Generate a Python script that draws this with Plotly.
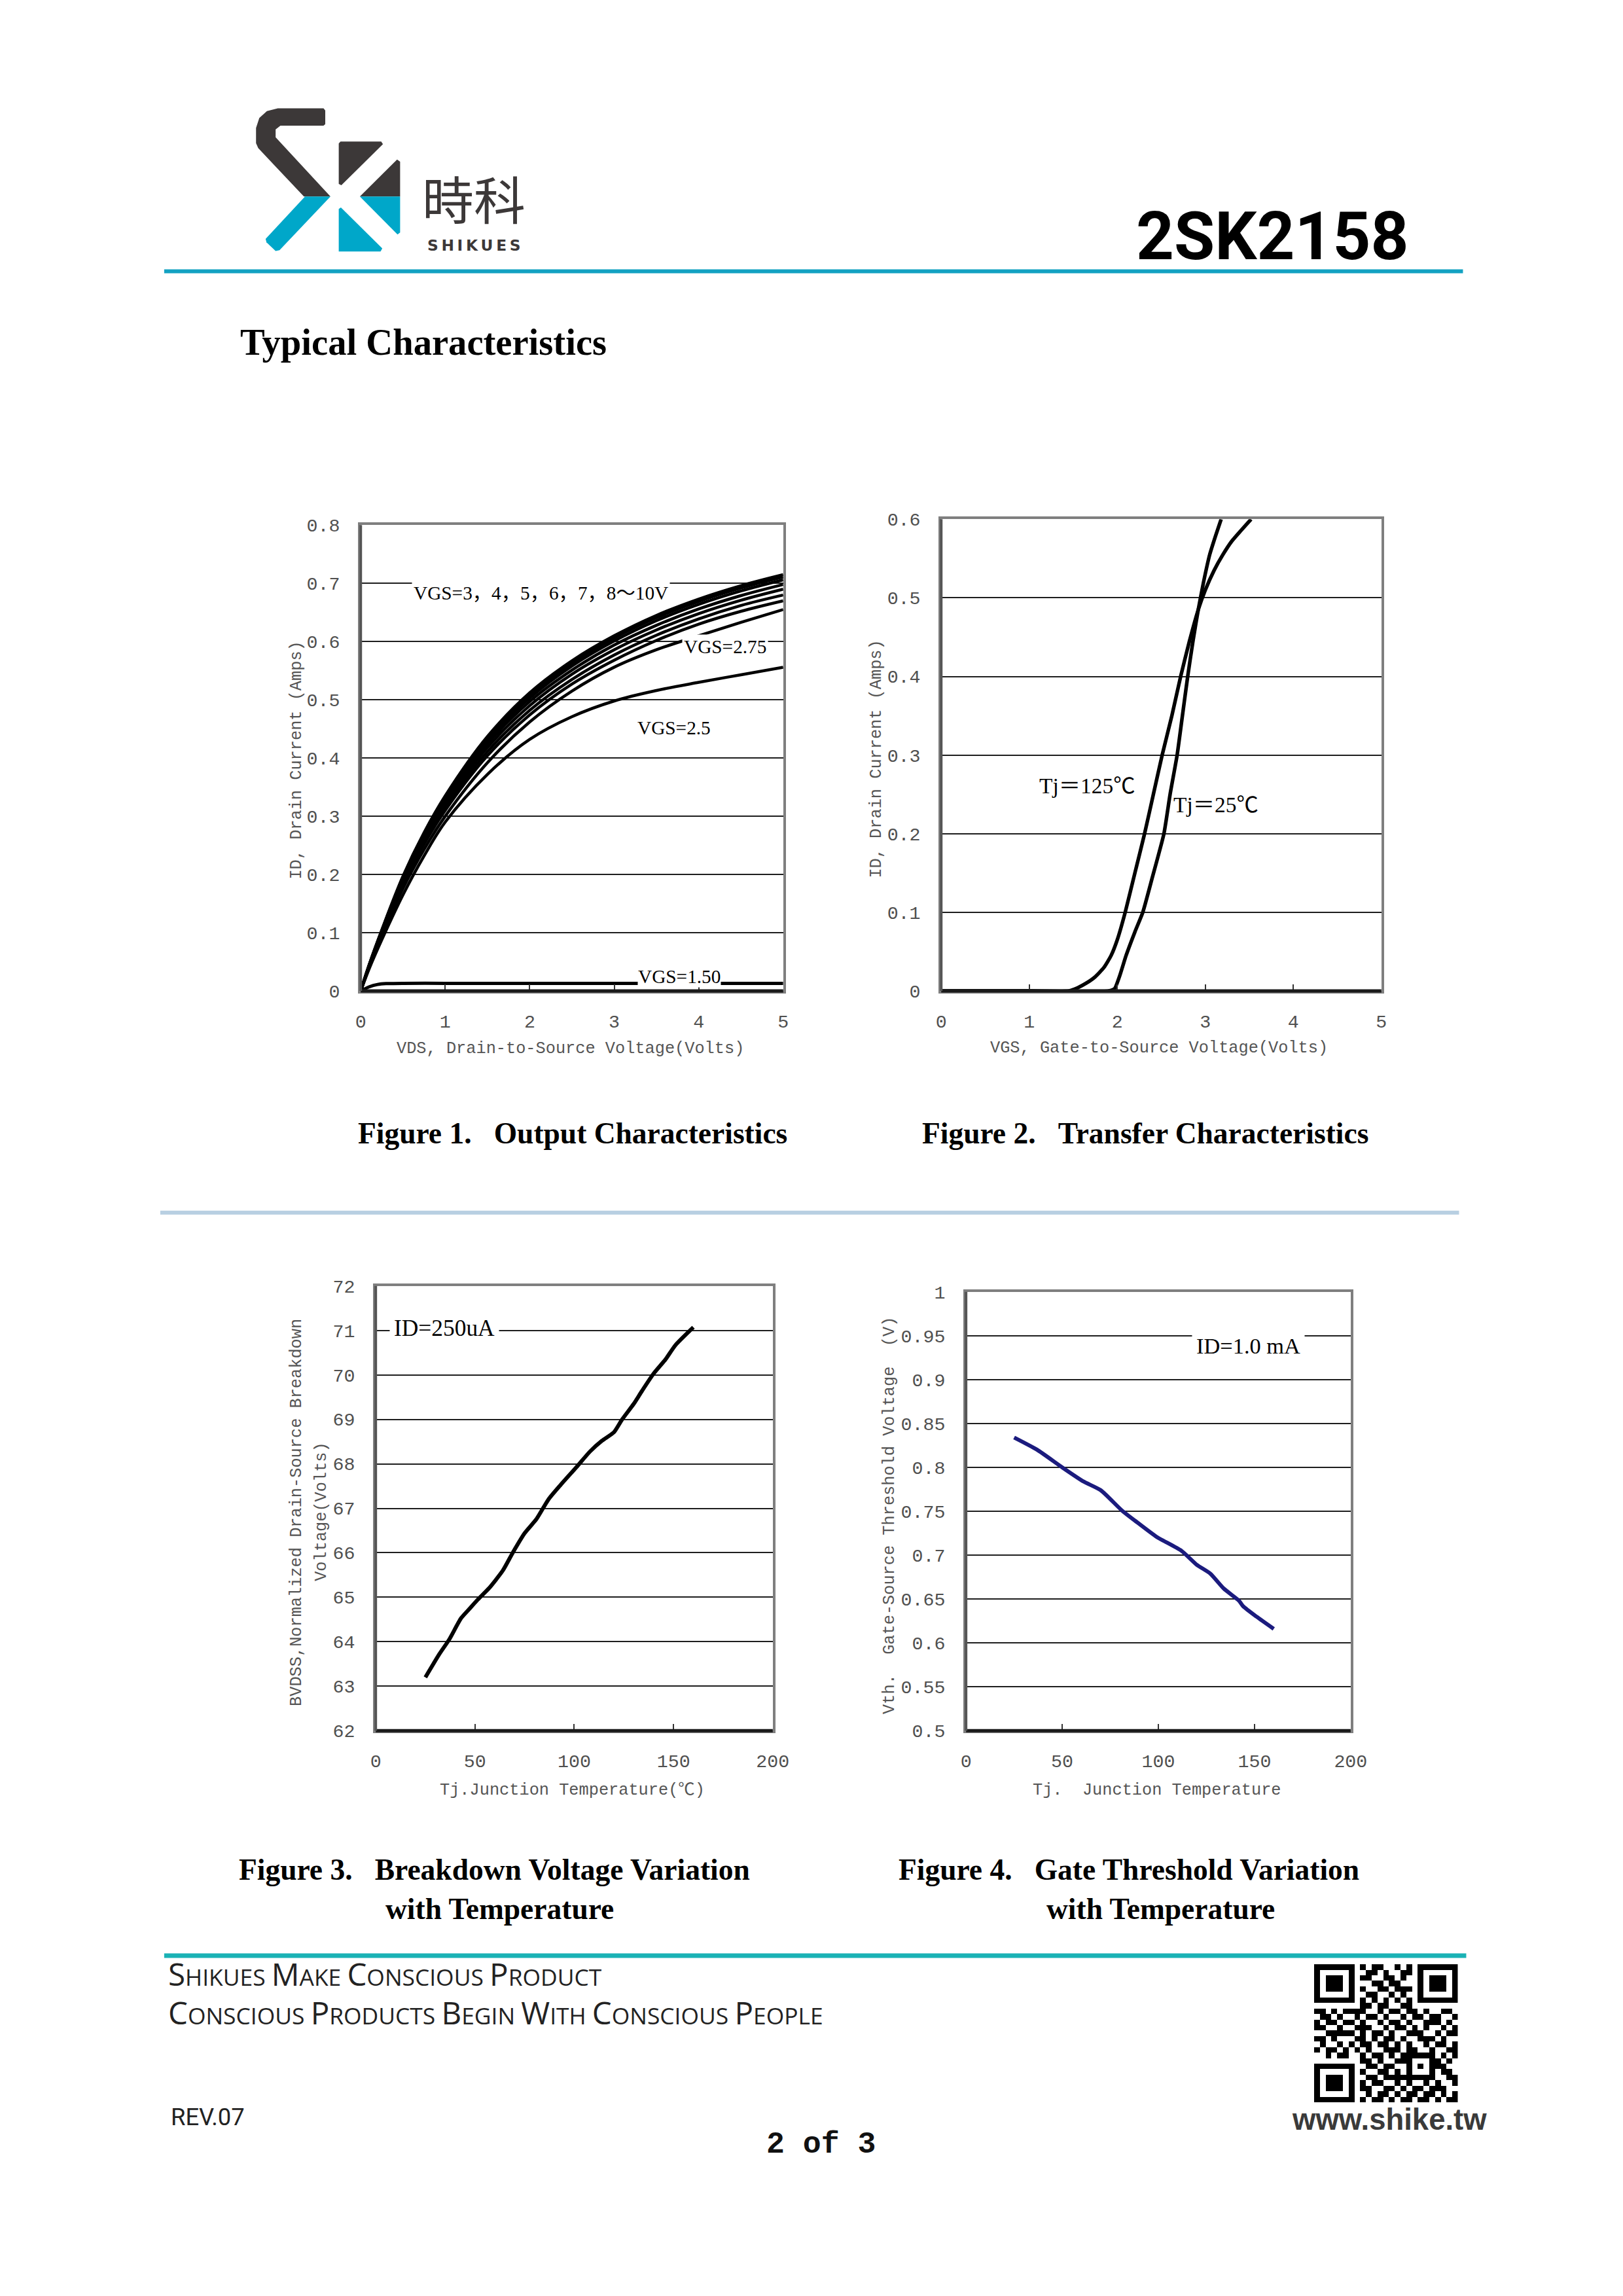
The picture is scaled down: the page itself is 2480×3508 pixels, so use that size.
import plotly.graph_objects as go

# page is 2480 x 3508; the browser body keeps an 8px margin, so the figure is 16px smaller.
PAGE_W, PAGE_H = 2480, 3508
W, H = PAGE_W - 16, PAGE_H - 16
# measured mapping (figure pixel -> photographed page pixel): page = A + B * fig
AX, BX = 10.6, 0.9888
AY, BY = 18.2, 0.9914
FS = 1.0 / BX

# ---------------- Figure 1 : Output characteristics ----------------
vds = [0, 0.1, 0.25, 0.5, 0.75, 1.0, 1.5, 2.0, 2.5, 3.0, 3.5, 4.0, 4.5, 5.0]
id_vgs10 = [0, 0.045, 0.105, 0.197, 0.272, 0.335, 0.437, 0.512, 0.567, 0.610, 0.645, 0.673, 0.696, 0.715]
id_vgs8 = [0, 0.045, 0.104, 0.195, 0.270, 0.332, 0.433, 0.508, 0.563, 0.606, 0.641, 0.669, 0.692, 0.711]
id_vgs7 = [0, 0.044, 0.103, 0.193, 0.267, 0.329, 0.429, 0.503, 0.558, 0.601, 0.636, 0.664, 0.687, 0.706]
id_vgs6 = [0, 0.044, 0.102, 0.191, 0.264, 0.325, 0.424, 0.497, 0.551, 0.594, 0.628, 0.656, 0.679, 0.698]
id_vgs5 = [0, 0.043, 0.101, 0.189, 0.261, 0.321, 0.418, 0.490, 0.544, 0.586, 0.620, 0.648, 0.671, 0.690]
id_vgs4 = [0, 0.043, 0.100, 0.186, 0.257, 0.316, 0.411, 0.482, 0.535, 0.577, 0.611, 0.639, 0.662, 0.680]
id_vgs3 = [0, 0.042, 0.098, 0.183, 0.252, 0.310, 0.404, 0.474, 0.527, 0.568, 0.602, 0.630, 0.652, 0.670]
id_vgs275 = [0, 0.040, 0.094, 0.176, 0.243, 0.300, 0.392, 0.462, 0.515, 0.556, 0.586, 0.610, 0.633, 0.655]
id_vgs25 = [0, 0.038, 0.088, 0.165, 0.232, 0.290, 0.372, 0.432, 0.471, 0.498, 0.516, 0.530, 0.543, 0.556]
vds_low = [0, 0.1, 0.2, 0.3, 0.5, 1.0, 2.0, 3.0, 4.0, 5.0]
id_vgs150 = [0, 0.007, 0.011, 0.0125, 0.013, 0.013, 0.013, 0.013, 0.013, 0.013]
fig1_xticks = [0, 1, 2, 3, 4, 5]
fig1_yticks = [0, 0.1, 0.2, 0.3, 0.4, 0.5, 0.6, 0.7, 0.8]

# ---------------- Figure 2 : Transfer characteristics ----------------
vgs_25 = [0, 1.0, 1.9, 1.97, 2.03, 2.1, 2.2, 2.29, 2.4, 2.53, 2.6, 2.68, 2.74, 2.8, 2.86, 2.92, 2.98, 3.05, 3.12, 3.18]
id_25 = [0, 0, 0, 0.003, 0.02, 0.045, 0.075, 0.1, 0.145, 0.2, 0.25, 0.3, 0.35, 0.4, 0.445, 0.485, 0.52, 0.555, 0.58, 0.6]
vgs_125 = [0, 1.0, 1.45, 1.55, 1.65, 1.75, 1.85, 1.93, 2.0, 2.09, 2.2, 2.31, 2.41, 2.51, 2.62, 2.72,
           2.82, 2.92, 3.0, 3.1, 3.2, 3.3, 3.4, 3.52]
id_125 = [0, 0, 0, 0.004, 0.01, 0.018, 0.03, 0.045, 0.065, 0.1, 0.15, 0.2, 0.25, 0.3, 0.35, 0.4,
          0.445, 0.485, 0.51, 0.535, 0.555, 0.572, 0.585, 0.6]
fig2_xticks = [0, 1, 2, 3, 4, 5]
fig2_yticks = [0, 0.1, 0.2, 0.3, 0.4, 0.5, 0.6]

# ---------------- Figure 3 : Breakdown voltage vs temperature ----------------
tj3 = [25, 32, 37, 43, 47, 51, 57, 64, 69, 75, 81, 87, 93, 101, 108, 114, 120, 124, 130, 134, 140, 146, 151, 160]
bvdss = [63.2, 63.72, 64.05, 64.53, 64.73, 64.93, 65.2, 65.6, 66.0, 66.44, 66.76, 67.2, 67.52, 67.92,
         68.28, 68.52, 68.71, 68.99, 69.35, 69.63, 70.03, 70.35, 70.67, 71.07]
fig3_xticks = [0, 50, 100, 150, 200]
fig3_yticks = [62, 63, 64, 65, 66, 67, 68, 69, 70, 71, 72]

# ---------------- Figure 4 : Gate threshold vs temperature ----------------
tj4 = [25, 37, 50, 61, 70, 81, 88, 99, 112, 120, 127, 134, 142, 144, 151, 160]
vth = [0.834, 0.820, 0.800, 0.784, 0.774, 0.751, 0.739, 0.721, 0.705, 0.689, 0.679, 0.662, 0.648,
       0.642, 0.630, 0.616]
fig4_xticks = [0, 50, 100, 150, 200]
fig4_yticks = [0.5, 0.55, 0.6, 0.65, 0.7, 0.75, 0.8, 0.85, 0.9, 0.95, 1.0]
fig4_yticktext = ["0.5", "0.55", "0.6", "0.65", "0.7", "0.75", "0.8", "0.85", "0.9", "0.95", "1"]

# ---------------- QR code pattern (decoration) ----------------
qr_rows = [
    "1111111010110010101111111",
    "1000001001101001101000001",
    "1011101011001101001011101",
    "1011101000110110001011101",
    "1011101010011011101011101",
    "1000001001100101001000001",
    "1111111010101010101111111",
    "0000000011011001100000000",
    "1101011110010110110100110",
    "0110100101101001011011001",
    "1011011010010110100111010",
    "1100100111001011010100101",
    "0011111010110100111001011",
    "1101000110101101001110100",
    "0100101011011010100101101",
    "1011010101001110110010011",
    "0010110010110101111110101",
    "0000000011010011100011010",
    "1111111001101100101011100",
    "1000001010011010100010110",
    "1011101001101111111110011",
    "1011101010110010100101001",
    "1011101011001101011011100",
    "1000001001011010110110101",
    "1111111010110101101101011",
]

# ====================================================================
def px(x):
    return ((x - AX) / BX) / W


def py(y):
    return 1 - ((y - AY) / BY) / H


def xdom(a, b):
    return [px(a), px(b)]


def ydom(top, bottom):
    return [py(bottom), py(top)]


def f(size):
    return round(size * FS, 1)


MONO = "Liberation Mono, DejaVu Sans Mono"
TICKFONT = dict(family=MONO, size=f(28), color="#505050")
SERIF = "Liberation Serif, Noto Sans CJK SC"

fig = go.Figure()

# ---- traces fig1
band = [("VGS=10", id_vgs10), ("VGS=8", id_vgs8), ("VGS=7", id_vgs7), ("VGS=6", id_vgs6),
        ("VGS=5", id_vgs5), ("VGS=4", id_vgs4), ("VGS=3", id_vgs3), ("VGS=2.75", id_vgs275),
        ("VGS=2.5", id_vgs25)]
for name, ys in band:
    fig.add_trace(go.Scatter(x=vds, y=ys, mode="lines", name=name, xaxis="x", yaxis="y",
                             line=dict(color="black", width=4.5, shape="spline", smoothing=1.0)))
fig.add_trace(go.Scatter(x=vds_low, y=id_vgs150, mode="lines", name="VGS=1.50", xaxis="x", yaxis="y",
                         line=dict(color="black", width=5, shape="spline", smoothing=0.6)))

# ---- traces fig2
fig.add_trace(go.Scatter(x=vgs_125, y=id_125, mode="lines", name="Tj=125", xaxis="x2", yaxis="y2",
                         line=dict(color="black", width=5.5, shape="spline", smoothing=0.5)))
fig.add_trace(go.Scatter(x=vgs_25, y=id_25, mode="lines", name="Tj=25", xaxis="x2", yaxis="y2",
                         line=dict(color="black", width=5.5, shape="spline", smoothing=0.5)))

# ---- traces fig3
fig.add_trace(go.Scatter(x=tj3, y=bvdss, mode="lines", name="BVDSS", xaxis="x3", yaxis="y3",
                         line=dict(color="black", width=6, shape="spline", smoothing=0.6)))

# ---- traces fig4
fig.add_trace(go.Scatter(x=tj4, y=vth, mode="lines", name="Vth", xaxis="x4", yaxis="y4",
                         line=dict(color="#1b1b7e", width=6, shape="spline", smoothing=0.6)))

# ---- QR code heatmap
n = 25
grid = [[int(c) for c in (r + "0" * n)[:n]] for r in qr_rows[:n]]


def put_square(r0, c0, size):
    for i in range(size):
        for j in range(size):
            edge = i in (0, size - 1) or j in (0, size - 1)
            ring2 = i in (1, size - 2) or j in (1, size - 2)
            grid[r0 + i][c0 + j] = 1 if (edge or not ring2) else 0


for (r0, c0) in [(0, 0), (0, 18), (18, 0)]:
    put_square(r0, c0, 7)
put_square(16, 16, 5)
fig.add_trace(go.Heatmap(z=grid, xaxis="x5", yaxis="y5", showscale=False, hoverinfo="skip",
                         colorscale=[[0, "white"], [1, "black"]], zmin=0, zmax=1))


# ---- axes
def axes(xd, yd, xr, yr, xt, yt, ytext=None):
    xa = dict(domain=xd, range=xr, tickvals=xt, showgrid=False, zeroline=False,
              showline=True, mirror=True, linecolor="#7f7f7f", linewidth=4,
              ticks="inside", ticklen=10, tickwidth=2, tickcolor="#333333",
              tickfont=TICKFONT, ticklabelstandoff=18, fixedrange=True)
    ya = dict(domain=yd, range=yr, tickvals=yt, showgrid=True, gridcolor="#1e1e1e", gridwidth=2,
              zeroline=False, showline=True, mirror=True, linecolor="#7f7f7f", linewidth=4,
              ticks="", tickfont=TICKFONT, ticklabelstandoff=22, fixedrange=True)
    if ytext is not None:
        ya["ticktext"] = ytext
    return xa, ya


ax1 = axes(xdom(547, 1194), ydom(799, 1511), [0, 5], [0, 0.8], fig1_xticks, fig1_yticks)
ax2 = axes(xdom(1436, 2110), ydom(790, 1511), [0, 5], [0, 0.6], fig2_xticks, fig2_yticks)
ax3 = axes(xdom(570, 1178), ydom(1962, 2642), [0, 200], [62, 72], fig3_xticks, fig3_yticks)
ax4 = axes(xdom(1474, 2063), ydom(1971, 2642), [0, 200], [0.5, 1.0], fig4_xticks, fig4_yticks,
           fig4_yticktext)

layout = dict(
    width=W, height=H, margin=dict(l=0, r=0, t=0, b=0),
    paper_bgcolor="white", plot_bgcolor="white", showlegend=False,
    font=dict(family=SERIF, color="black"),
)
layout["xaxis"], layout["yaxis"] = ax1
ax2[0]["anchor"] = "y2"; ax2[1]["anchor"] = "x2"
ax3[0]["anchor"] = "y3"; ax3[1]["anchor"] = "x3"
ax4[0]["anchor"] = "y4"; ax4[1]["anchor"] = "x4"
layout["xaxis2"], layout["yaxis2"] = ax2
layout["xaxis3"], layout["yaxis3"] = ax3
layout["xaxis4"], layout["yaxis4"] = ax4
layout["xaxis5"] = dict(domain=xdom(2007, 2227), anchor="y5", visible=False, fixedrange=True,
                        range=[-0.5, n - 0.5])
layout["yaxis5"] = dict(domain=ydom(2999, 3210), anchor="x5", visible=False, fixedrange=True,
                        range=[n - 0.5, -0.5])
fig.update_layout(**layout)

shapes = []
# dark bottom and left frame lines on each chart
for k in ["", "2", "3", "4"]:
    shapes.append(dict(type="line", xref=f"x{k} domain", yref=f"y{k} domain", x0=0, x1=1, y0=0, y1=0,
                       line=dict(color="#1a1a1a", width=5), layer="above"))
    shapes.append(dict(type="line", xref=f"x{k} domain", yref=f"y{k} domain", x0=0, x1=0, y0=0, y1=1,
                       line=dict(color="#555555", width=4), layer="above"))


def hline(y, x0, x1, color, width):
    shapes.append(dict(type="line", xref="paper", yref="paper", x0=px(x0), x1=px(x1), y0=py(y), y1=py(y),
                       line=dict(color=color, width=width)))


hline(411, 246, 2235, "#13a2c2", 6)     # header line
hline(1850, 240, 2229, "#b8cfe2", 6)    # separator
hline(2986, 246, 2240, "#1ab2b5", 7)    # footer line


# logo (zoom-crop coordinates -> page pixels)
def logo_path(pts):
    s = ""
    for i, (zx, zy) in enumerate(pts):
        X = 380 + zx / 3.0
        Y = 150 + zy / 3.0
        s += ("M " if i == 0 else " L ") + f"{px(X):.5f},{py(Y):.5f}"
    return s + " Z"


DARK = "#3c3838"
CYAN = "#00a7c9"
logo = [
    ([(120, 35), (330, 35), (338, 45), (338, 108), (330, 115), (132, 115), (110, 132), (110, 168),
      (362, 440), (240, 440), (30, 218), (20, 195), (20, 125), (35, 80), (70, 48)], DARK),
    ([(400, 197), (408, 188), (595, 188), (603, 200), (412, 388), (400, 382)], DARK),
    ([(668, 270), (682, 280), (682, 440), (497, 440)], DARK),
    ([(245, 440), (362, 440), (128, 686), (110, 690), (68, 650), (64, 634)], CYAN),
    ([(497, 440), (682, 440), (682, 605), (670, 614)], CYAN),
    ([(400, 497), (410, 490), (600, 678), (592, 692), (400, 692)], CYAN),
]
for pts, col in logo:
    shapes.append(dict(type="path", xref="paper", yref="paper", path=logo_path(pts),
                       fillcolor=col, line=dict(width=0)))

fig.update_layout(shapes=shapes)

ann = []


def text(x, y, s, size, family=SERIF, color="black", xanchor="center", yanchor="middle",
         angle=0, bold=False, xref="paper", yref="paper", bg=None, pad=0):
    a = dict(x=px(x) if xref == "paper" else x, y=py(y) if yref == "paper" else y,
             xref=xref, yref=yref, text=s, showarrow=False, xanchor=xanchor, yanchor=yanchor,
             textangle=angle, font=dict(family=family, size=f(size), color=color,
                                        weight="bold" if bold else "normal"))
    if bg:
        a["bgcolor"] = bg
        a["borderpad"] = pad
    ann.append(a)


# header
text(720, 298, "時科", 78, family="Noto Sans CJK SC", color=DARK)
text(721, 371, "S\u2009H\u2009I\u2009K\u2009U\u2009E\u2009S", 23, family="DejaVu Sans", color=DARK, bold=True)
text(2154, 358, "2SK2158", 100, family="Roboto", xanchor="right", bold=True)
text(360, 519, "Typical Characteristics", 56, family="Liberation Serif", xanchor="left", bold=True)

# axis titles
GREY = "#555555"
text(868, 1600, "VDS, Drain-to-Source Voltage(Volts)", 25, family=MONO, color=GREY)
text(449, 1158, "ID, Drain Current (Amps)", 25, family=MONO, color=GREY, angle=-90)
text(1770, 1599, "VGS, Gate-to-Source Voltage(Volts)", 25, family=MONO, color=GREY)
text(1337, 1156, "ID, Drain Current (Amps)", 25, family=MONO, color=GREY, angle=-90)
text(871, 2733, "Tj.Junction Temperature(℃)", 25, family=MONO + ", Noto Sans CJK SC", color=GREY)
text(449, 2308, "BVDSS,Normalized Drain-Source Breakdown", 25, family=MONO, color=GREY, angle=-90)
text(487, 2307, "Voltage(Volts)", 25, family=MONO, color=GREY, angle=-90)
text(1766, 2733, "Tj.  Junction Temperature", 25, family=MONO, color=GREY)
text(1357, 2313, "Vth.  Gate-Source Threshold Voltage  (V)", 25, family=MONO, color=GREY, angle=-90)

# in-chart labels
text(2.13, 0.683, "VGS=3，4，5，6，7，8～10V", 29, xref="x", yref="y", bg="white", pad=2)
text(4.31, 0.591, "VGS=2.75", 29, xref="x", yref="y", bg="white", pad=2)
text(3.71, 0.452, "VGS=2.5", 29, xref="x", yref="y")
text(3.77, 0.025, "VGS=1.50", 29, xref="x", yref="y", bg="white", pad=0)
text(1.66, 0.261, "Tj＝125℃", 33, xref="x2", yref="y2")
text(3.12, 0.237, "Tj＝25℃", 33, xref="x2", yref="y2")
text(34.5, 71.05, "ID=250uA", 35, xref="x3", yref="y3", bg="white", pad=6)
text(146.9, 0.939, "ID=1.0 mA", 34, xref="x4", yref="y4", bg="white", pad=6)

# captions
NB = "\u00a0"
text(872, 1729, f"Figure 1.{NB*3}Output Characteristics", 45, bold=True)
text(1748, 1729, f"Figure 2.{NB*3}Transfer Characteristics", 45, bold=True)
text(752, 2854, f"Figure 3.{NB*3}Breakdown Voltage Variation", 45, bold=True)
text(760, 2914, "with Temperature", 45, bold=True)
text(1723, 2854, f"Figure 4.{NB*3}Gate Threshold Variation", 45, bold=True)
text(1772, 2914, "with Temperature", 45, bold=True)


# footer
def smallcaps(s, big, small):
    parts = []
    for w in s.split(" "):
        parts.append(f"<span style='font-size:{big}px'>{w[0]}</span>"
                     f"<span style='font-size:{small}px'>{w[1:]}</span>")
    return NB.join(parts)


text(250, 3013, smallcaps("SHIKUES MAKE CONSCIOUS PRODUCT", f(47), f(35)), 35, family="Open Sans",
     color="#222222", xanchor="left")
text(250, 3072, smallcaps("CONSCIOUS PRODUCTS BEGIN WITH CONSCIOUS PEOPLE", f(47), f(35)), 35,
     family="Open Sans", color="#222222", xanchor="left")
text(254, 3233, "REV.07", 36, family="Roboto", color="#222222", xanchor="left")
text(1252, 3275, "2 of 3", 46, family="Liberation Mono", color="#111111", bold=True)
text(2122, 3237, "www.shike.tw", 45, family="Liberation Sans", color="#3a3a3a", bold=True)

fig.update_layout(annotations=ann)

fig.write_html("out.html")
